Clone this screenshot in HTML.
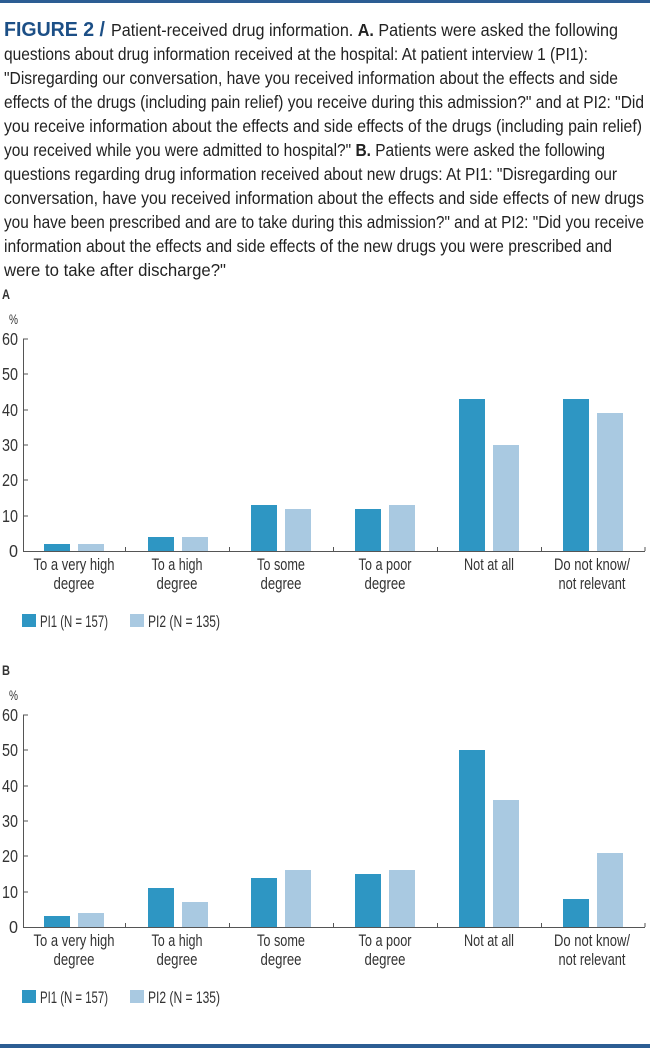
<!DOCTYPE html>
<html><head><meta charset="utf-8"><style>
html,body{margin:0;padding:0;background:#fff;width:650px;height:1049px;overflow:hidden}
svg{position:absolute;left:0;top:0}
text{font-family:"Liberation Sans",sans-serif;fill:#333}
.c{font-size:17.5px;fill:#222}
.f{font-weight:bold;font-size:20px;fill:#1c4f86}
</style></head><body>
<svg width="650" height="1049" viewBox="0 0 650 1049">
<rect x="0" y="0" width="650" height="3" fill="#2c5d93"/>
<rect x="0" y="1044" width="650" height="4" fill="#2c5d93"/>
<g>
<text x="4" y="36" class="f" textLength="101" lengthAdjust="spacingAndGlyphs">FIGURE 2 /</text>
<text x="111" y="36" class="c" textLength="507" lengthAdjust="spacingAndGlyphs">Patient-received drug information. <tspan font-weight="bold">A.</tspan> Patients were asked the following</text>
<text x="4" y="60" class="c" textLength="584" lengthAdjust="spacingAndGlyphs">questions about drug information received at the hospital: At patient interview 1 (PI1):</text>
<text x="4" y="84" class="c" textLength="614" lengthAdjust="spacingAndGlyphs">"Disregarding our conversation, have you received information about the effects and side</text>
<text x="4" y="108" class="c" textLength="640" lengthAdjust="spacingAndGlyphs">effects of the drugs (including pain relief) you receive during this admission?" and at PI2: "Did</text>
<text x="4" y="132" class="c" textLength="638" lengthAdjust="spacingAndGlyphs">you receive information about the effects and side effects of the drugs (including pain relief)</text>
<text x="4" y="156" class="c" textLength="601" lengthAdjust="spacingAndGlyphs">you received while you were admitted to hospital?" <tspan font-weight="bold">B.</tspan> Patients were asked the following</text>
<text x="4" y="180" class="c" textLength="613" lengthAdjust="spacingAndGlyphs">questions regarding drug information received about new drugs: At PI1: "Disregarding our</text>
<text x="4" y="204" class="c" textLength="640" lengthAdjust="spacingAndGlyphs">conversation, have you received information about the effects and side effects of new drugs</text>
<text x="4" y="228" class="c" textLength="640" lengthAdjust="spacingAndGlyphs">you have been prescribed and are to take during this admission?" and at PI2: "Did you receive</text>
<text x="4" y="252" class="c" textLength="608" lengthAdjust="spacingAndGlyphs">information about the effects and side effects of the new drugs you were prescribed and</text>
<text x="4" y="276" class="c" textLength="222" lengthAdjust="spacingAndGlyphs">were to take after discharge?"</text>
</g>
<defs>
<g id="ax">
<g font-size="17.5" text-anchor="end">
<text x="18" y="557" textLength="9" lengthAdjust="spacingAndGlyphs">0</text><text x="18" y="522" textLength="16" lengthAdjust="spacingAndGlyphs">10</text><text x="18" y="486" textLength="16" lengthAdjust="spacingAndGlyphs">20</text><text x="18" y="451" textLength="16" lengthAdjust="spacingAndGlyphs">30</text><text x="18" y="416" textLength="16" lengthAdjust="spacingAndGlyphs">40</text><text x="18" y="380" textLength="16" lengthAdjust="spacingAndGlyphs">50</text><text x="18" y="345" textLength="16" lengthAdjust="spacingAndGlyphs">60</text>
</g>
<text x="9" y="324" font-size="14" textLength="9" lengthAdjust="spacingAndGlyphs">%</text>
<g stroke="#555" stroke-width="1" fill="none">
<path d="M23.5 339V551.5H645"/>
<path d="M23 339h5M23 374h5M23 410h5M23 445h5M23 480h5M23 516h5"/>
<path d="M125.5 547v4M229.5 547v4M333.5 547v4M437.5 547v4M541.5 547v4M645 547v4"/>
</g>
<g font-size="16.5" text-anchor="middle">
<text x="74" y="570" textLength="81" lengthAdjust="spacingAndGlyphs">To a very high</text><text x="74" y="589" textLength="41" lengthAdjust="spacingAndGlyphs">degree</text>
<text x="177" y="570" textLength="51" lengthAdjust="spacingAndGlyphs">To a high</text><text x="177" y="589" textLength="41" lengthAdjust="spacingAndGlyphs">degree</text>
<text x="281" y="570" textLength="48" lengthAdjust="spacingAndGlyphs">To some</text><text x="281" y="589" textLength="41" lengthAdjust="spacingAndGlyphs">degree</text>
<text x="385" y="570" textLength="53" lengthAdjust="spacingAndGlyphs">To a poor</text><text x="385" y="589" textLength="41" lengthAdjust="spacingAndGlyphs">degree</text>
<text x="489" y="570" textLength="50" lengthAdjust="spacingAndGlyphs">Not at all</text>
<text x="592" y="570" textLength="76" lengthAdjust="spacingAndGlyphs">Do not know/</text><text x="592" y="589" textLength="67" lengthAdjust="spacingAndGlyphs">not relevant</text>
</g>
<rect x="22" y="614" width="14" height="13" fill="#2e96c3"/><text x="40" y="627" font-size="16.5" textLength="68" lengthAdjust="spacingAndGlyphs">PI1 (N = 157)</text>
<rect x="130" y="614" width="14" height="13" fill="#a9c9e1"/><text x="148" y="627" font-size="16.5" textLength="72" lengthAdjust="spacingAndGlyphs">PI2 (N = 135)</text>
</g>
</defs>
<g>
<text x="2" y="299" font-size="14" font-weight="bold" textLength="8" lengthAdjust="spacingAndGlyphs">A</text>
<use href="#ax"/>
<g fill="#2e96c3">
<rect x="44" y="544" width="26" height="7"/><rect x="148" y="537" width="26" height="14"/><rect x="251" y="505" width="26" height="46"/><rect x="355" y="509" width="26" height="42"/><rect x="459" y="399" width="26" height="152"/><rect x="563" y="399" width="26" height="152"/>
</g>
<g fill="#a9c9e1">
<rect x="78" y="544" width="26" height="7"/><rect x="182" y="537" width="26" height="14"/><rect x="285" y="509" width="26" height="42"/><rect x="389" y="505" width="26" height="46"/><rect x="493" y="445" width="26" height="106"/><rect x="597" y="413" width="26" height="138"/>
</g>
</g>
<g transform="translate(0,376)">
<text x="2" y="299" font-size="14" font-weight="bold" textLength="8" lengthAdjust="spacingAndGlyphs">B</text>
<use href="#ax"/>
<g fill="#2e96c3">
<rect x="44" y="540" width="26" height="11"/><rect x="148" y="512" width="26" height="39"/><rect x="251" y="502" width="26" height="49"/><rect x="355" y="498" width="26" height="53"/><rect x="459" y="374" width="26" height="177"/><rect x="563" y="523" width="26" height="28"/>
</g>
<g fill="#a9c9e1">
<rect x="78" y="537" width="26" height="14"/><rect x="182" y="526" width="26" height="25"/><rect x="285" y="494" width="26" height="57"/><rect x="389" y="494" width="26" height="57"/><rect x="493" y="424" width="26" height="127"/><rect x="597" y="477" width="26" height="74"/>
</g>
</g>
</svg>
</body></html>
